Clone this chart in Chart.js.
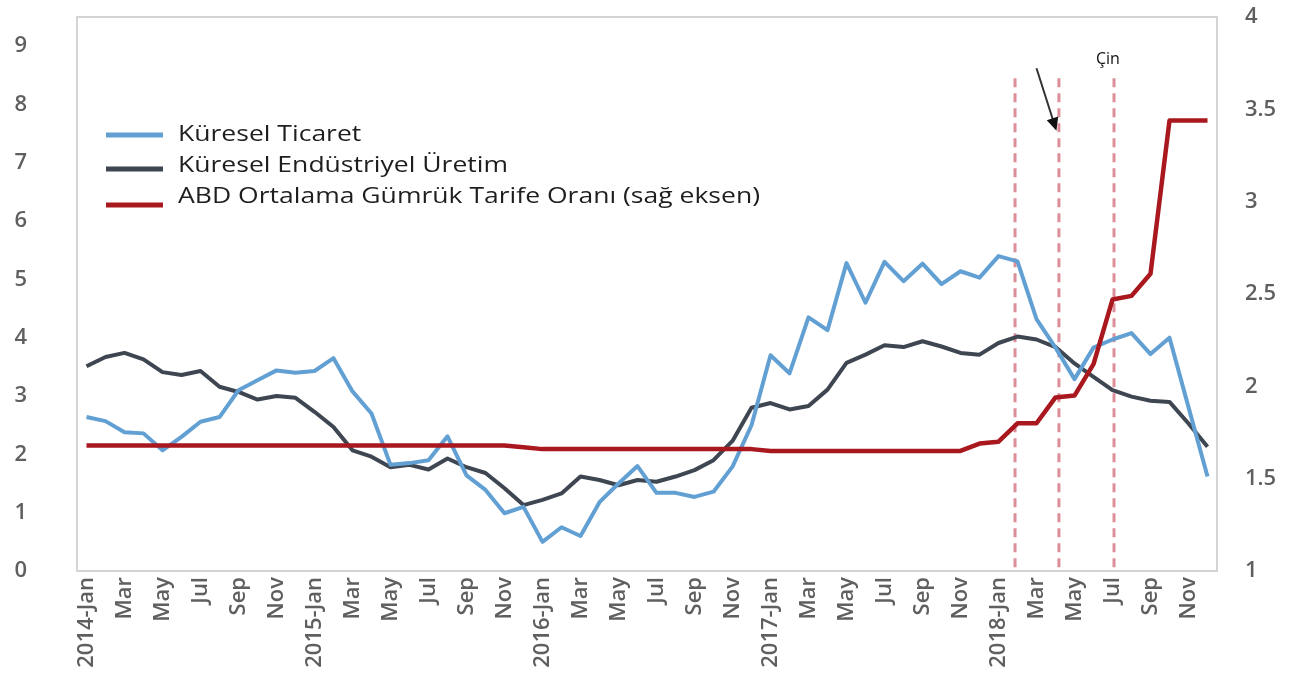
<!DOCTYPE html>
<html>
<head>
<meta charset="utf-8">
<script src="https://cdn.jsdelivr.net/npm/chart.js@4.4.1/dist/chart.umd.min.js"></script>
<style>
  html, body { margin: 0; padding: 0; background: #fff; }
  #wrap { width: 1299px; height: 686px; position: relative; }
</style>
</head>
<body>
<div id="wrap"><canvas id="chart"></canvas></div>
<script>
// months / categories
const monthNames = ['Jan', 'Feb', 'Mar', 'Apr', 'May', 'Jun', 'Jul', 'Aug', 'Sep', 'Oct', 'Nov', 'Dec'];
const years = [2014, 2015, 2016, 2017, 2018];
const labels = years.flatMap(y => monthNames.map(m => (m === 'Jan' ? y + '-Jan' : m)));

// Küresel Ticaret (left axis, %)
const tradeValues = [
  2.64, 2.57, 2.38, 2.36, 2.07, 2.30, 2.56, 2.64, 3.10, 3.27, 3.44, 3.40,
  3.43, 3.65, 3.08, 2.70, 1.82, 1.85, 1.90, 2.31, 1.64, 1.39, 0.99, 1.10,
  0.50, 0.75, 0.60, 1.18, 1.50, 1.80, 1.34, 1.34, 1.27, 1.36, 1.79, 2.50,
  3.70, 3.39, 4.35, 4.13, 5.28, 4.60, 5.30, 4.97, 5.27, 4.92, 5.14, 5.03,
  5.40, 5.31, 4.32, 3.83, 3.29, 3.83, 3.97, 4.08, 3.72, 4.00, 2.81, 1.62
];

// Küresel Endüstriyel Üretim (left axis, %)
const industryValues = [
  3.51, 3.67, 3.74, 3.63, 3.41, 3.36, 3.43, 3.16, 3.07, 2.94, 3.00, 2.97,
  2.73, 2.47, 2.07, 1.96, 1.78, 1.82, 1.74, 1.93, 1.78, 1.68, 1.42, 1.13,
  1.22, 1.33, 1.62, 1.56, 1.47, 1.56, 1.53, 1.62, 1.73, 1.90, 2.23, 2.80,
  2.88, 2.77, 2.83, 3.11, 3.57, 3.71, 3.87, 3.84, 3.94, 3.85, 3.74, 3.71,
  3.91, 4.02, 3.97, 3.84, 3.56, 3.33, 3.10, 2.99, 2.92, 2.90, 2.53, 2.13
];

// ABD Ortalama Gümrük Tarife Oranı (right axis, %)
const tariffValues = [
  1.68, 1.68, 1.68, 1.68, 1.68, 1.68, 1.68, 1.68, 1.68, 1.68, 1.68, 1.68,
  1.68, 1.68, 1.68, 1.68, 1.68, 1.68, 1.68, 1.68, 1.68, 1.68, 1.68, 1.67,
  1.66, 1.66, 1.66, 1.66, 1.66, 1.66, 1.66, 1.66, 1.66, 1.66, 1.66, 1.66,
  1.65, 1.65, 1.65, 1.65, 1.65, 1.65, 1.65, 1.65, 1.65, 1.65, 1.65, 1.69,
  1.70, 1.80, 1.80, 1.94, 1.95, 2.12, 2.47, 2.49, 2.61, 3.44, 3.44, 3.44
];

const seriesNames = ['Küresel Ticaret', 'Küresel Endüstriyel Üretim', 'ABD Ortalama Gümrük Tarife Oranı (sağ eksen)'];

// annotations, in data units (category index, left-axis value)
const markerMonths = [48.87, 51.18, 54.08];
const markerTop = 8.45;
const arrowFrom = [50.0, 8.62];
const arrowTo = [51.05, 7.55];
const chinaNote = { text: 'Çin', at: [53.76, 8.78] };

const colors = { trade: '#62a0d4', industry: '#3e4652', tariff: '#a8181e' };
const tickColor = '#5f5f5f';
const tickFont = { family: "'Open Sans', sans-serif", size: 22, weight: '600' };

// keep the axes from pushing the plot area down
const noPad = s => { s.paddingTop = 0; s.paddingBottom = 0; };

const overlay = {
  id: 'overlay',
  beforeDatasetsDraw(chart) {
    const { ctx, chartArea: a, scales } = chart;
    ctx.save();
    // plot frame
    ctx.strokeStyle = '#d4d4d4';
    ctx.lineWidth = 2;
    ctx.strokeRect(a.left, a.top, a.right - a.left, a.bottom - a.top);
    // dashed vertical markers
    ctx.strokeStyle = 'rgba(205, 95, 110, 0.7)';
    ctx.lineWidth = 3;
    ctx.setLineDash([9, 6]);
    markerMonths.forEach(m => {
      const x = scales.x.getPixelForValue(m);
      ctx.beginPath();
      ctx.moveTo(x, scales.y.getPixelForValue(markerTop));
      ctx.lineTo(x, a.bottom);
      ctx.stroke();
    });
    ctx.restore();
  },
  afterDraw(chart) {
    const { ctx, chartArea: a, scales } = chart;
    ctx.save();
    // legend
    const rows = [
      { name: seriesNames[0], color: colors.trade, ty: 135, ly: 135 },
      { name: seriesNames[1], color: colors.industry, ty: 166, ly: 169 },
      { name: seriesNames[2], color: colors.tariff, ty: 197, ly: 205 }
    ];
    ctx.font = "21px 'Open Sans', sans-serif";
    ctx.textBaseline = 'middle';
    ctx.fillStyle = '#1e1e1e';
    const sx = 582 / ctx.measureText(seriesNames[2]).width;
    rows.forEach(r => {
      ctx.strokeStyle = r.color;
      ctx.lineWidth = 5;
      ctx.beginPath();
      ctx.moveTo(a.left + 29, r.ly);
      ctx.lineTo(a.left + 86, r.ly);
      ctx.stroke();
      ctx.save();
      ctx.translate(a.left + 101, r.ty);
      ctx.scale(sx, 1);
      ctx.fillText(r.name, 0, 0);
      ctx.restore();
    });

    // arrow
    const x1 = scales.x.getPixelForValue(arrowFrom[0]), y1 = scales.y.getPixelForValue(arrowFrom[1]);
    const x2 = scales.x.getPixelForValue(arrowTo[0]), y2 = scales.y.getPixelForValue(arrowTo[1]);
    const ang = Math.atan2(y2 - y1, x2 - x1);
    ctx.strokeStyle = '#333';
    ctx.fillStyle = '#111';
    ctx.lineWidth = 2;
    ctx.beginPath();
    ctx.moveTo(x1, y1);
    ctx.lineTo(x2 - 10 * Math.cos(ang), y2 - 10 * Math.sin(ang));
    ctx.stroke();
    ctx.beginPath();
    ctx.moveTo(x2, y2);
    ctx.lineTo(x2 - 13 * Math.cos(ang) + 6 * Math.sin(ang), y2 - 13 * Math.sin(ang) - 6 * Math.cos(ang));
    ctx.lineTo(x2 - 13 * Math.cos(ang) - 6 * Math.sin(ang), y2 - 13 * Math.sin(ang) + 6 * Math.cos(ang));
    ctx.closePath();
    ctx.fill();

    // note text
    ctx.font = "16px 'Open Sans', sans-serif";
    ctx.textAlign = 'center';
    ctx.fillStyle = '#111';
    ctx.fillText(chinaNote.text, scales.x.getPixelForValue(chinaNote.at[0]), scales.y.getPixelForValue(chinaNote.at[1]));
    ctx.restore();
  }
};

new Chart(document.getElementById('chart'), {
  type: 'line',
  data: {
    labels: labels,
    datasets: [
      {
        label: seriesNames[0],
        data: tradeValues,
        borderColor: colors.trade,
        borderWidth: 4,
        yAxisID: 'y',
        order: 1
      },
      {
        label: seriesNames[1],
        data: industryValues,
        borderColor: colors.industry,
        borderWidth: 4,
        yAxisID: 'y',
        order: 2
      },
      {
        label: seriesNames[2],
        data: tariffValues,
        borderColor: colors.tariff,
        borderWidth: 4.5,
        yAxisID: 'y1',
        order: 0
      }
    ]
  },
  options: {
    responsive: true,
    maintainAspectRatio: false,
    animation: false,
    layout: { padding: { top: 17 } },
    elements: {
      point: { radius: 0 },
      line: { tension: 0, borderJoinStyle: 'round', borderCapStyle: 'butt' }
    },
    plugins: {
      legend: { display: false },
      tooltip: { enabled: false }
    },
    scales: {
      x: {
        offset: true,
        grid: { display: false, drawTicks: false },
        border: { display: false },
        ticks: {
          autoSkip: false,
          minRotation: 90,
          maxRotation: 90,
          padding: 6,
          color: tickColor,
          font: tickFont,
          callback: function (val, index) {
            return index % 2 === 0 ? this.getLabelForValue(val) : '';
          }
        },
        afterFit: s => { s.height = 115; }
      },
      y: {
        position: 'left',
        min: 0,
        max: 9.5,
        grid: { display: false, drawTicks: false },
        border: { display: false },
        ticks: {
          stepSize: 1,
          padding: 50,
          color: tickColor,
          font: tickFont,
          callback: v => (Number.isInteger(v) ? String(v) : '')
        },
        afterFit: s => { s.width = 77; noPad(s); }
      },
      y1: {
        position: 'right',
        min: 1,
        max: 4,
        grid: { display: false, drawTicks: false },
        border: { display: false },
        ticks: {
          stepSize: 0.5,
          padding: 28,
          color: tickColor,
          font: tickFont,
          callback: v => String(v)
        },
        afterFit: s => { s.width = 82; noPad(s); }
      }
    }
  },
  plugins: [overlay]
});
</script>
</body>
</html>
